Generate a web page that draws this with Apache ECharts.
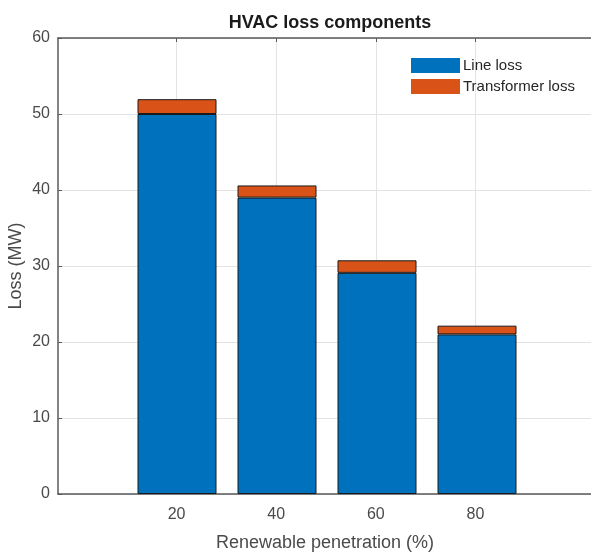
<!DOCTYPE html>
<html>
<head>
<meta charset="utf-8">
<script src="https://cdn.jsdelivr.net/npm/echarts@6/dist/echarts.min.js"></script>
<style>
  html, body { margin: 0; padding: 0; background: #fff; }
  #chart { width: 591px; height: 552px; }
</style>
</head>
<body>
<div id="chart"></div>
<script>
// penetration levels (%)
const penetration = [20, 40, 60, 80];
// loss components (MW)
const lineLoss = [50, 39, 29.1, 21];
const transformerLoss = [1.95, 1.6, 1.65, 1.15];

const axisColor = '#5a5a5a';
const labelColor = '#4a4a4a';
const font = 'Liberation Sans, Arial, sans-serif';

const chart = echarts.init(document.getElementById('chart'));

// frame axes (grid 0) span the whole box, bars live in grid 1 over 10..90
const xFrame = {
  type: 'value',
  gridIndex: 0,
  min: -3.8,
  max: 103.4,
  axisLine: { show: true, onZero: false, lineStyle: { color: axisColor, width: 1.5 } },
  axisTick: { show: true, inside: true, length: 4, customValues: penetration, lineStyle: { color: axisColor } },
  splitLine: { show: false }
};

chart.setOption({
  animation: false,
  title: {
    text: 'HVAC loss components',
    left: 325,
    textAlign: 'center',
    top: 9,
    textStyle: { fontFamily: font, fontSize: 18, fontWeight: 'bold', color: '#1a1a1a' }
  },
  legend: {
    orient: 'vertical',
    left: 411,
    top: 58,
    padding: 0,
    itemWidth: 49,
    itemHeight: 15,
    itemGap: 6,
    icon: 'rect',
    itemStyle: { borderWidth: 0 },
    textStyle: { fontFamily: font, fontSize: 15, color: '#262626', padding: [0, 0, 0, -2] },
    data: ['Line loss', 'Transformer loss']
  },
  grid: [
    { left: 58, right: -1, top: 38, bottom: 58, outerBoundsMode: 'none' },
    { left: 127, right: 64, top: 38, bottom: 58, outerBoundsMode: 'none' }
  ],
  xAxis: [
    Object.assign({}, xFrame, {
      position: 'bottom',
      name: 'Renewable penetration (%)',
      nameLocation: 'middle',
      nameGap: 40,
      nameMoveOverlap: false,
      nameTextStyle: { fontFamily: font, fontSize: 18, color: labelColor },
      axisLabel: { customValues: penetration, margin: 13, fontFamily: font, fontSize: 16, color: labelColor },
      splitLine: { show: true, lineStyle: { color: '#e3e3e3' } }
    }),
    Object.assign({}, xFrame, {
      position: 'top',
      axisLabel: { show: false }
    }),
    {
      type: 'category',
      gridIndex: 1,
      data: penetration,
      show: false
    }
  ],
  yAxis: [
    {
      type: 'value',
      gridIndex: 0,
      min: 0,
      max: 60,
      interval: 10,
      name: 'Loss (MW)',
      nameLocation: 'middle',
      nameGap: 33,
      nameMoveOverlap: false,
      nameTextStyle: { fontFamily: font, fontSize: 18, color: labelColor },
      axisLine: { show: true, onZero: false, lineStyle: { color: axisColor, width: 1.5 } },
      axisTick: { show: true, inside: true, length: 4, lineStyle: { color: axisColor } },
      axisLabel: { margin: 8, fontFamily: font, fontSize: 16, color: labelColor },
      splitLine: { show: true, lineStyle: { color: '#e3e3e3' } }
    },
    {
      type: 'value',
      gridIndex: 1,
      min: 0,
      max: 60,
      show: false
    }
  ],
  series: [
    {
      name: 'Line loss',
      type: 'bar',
      xAxisIndex: 2,
      yAxisIndex: 1,
      stack: 'loss',
      barWidth: 79,
      itemStyle: { color: '#0072BD', borderColor: '#1a1a1a', borderWidth: 1 },
      data: lineLoss
    },
    {
      name: 'Transformer loss',
      type: 'bar',
      xAxisIndex: 2,
      yAxisIndex: 1,
      stack: 'loss',
      barWidth: 79,
      itemStyle: { color: '#D95319', borderColor: '#1a1a1a', borderWidth: 1 },
      data: transformerLoss
    }
  ]
});
</script>
</body>
</html>
